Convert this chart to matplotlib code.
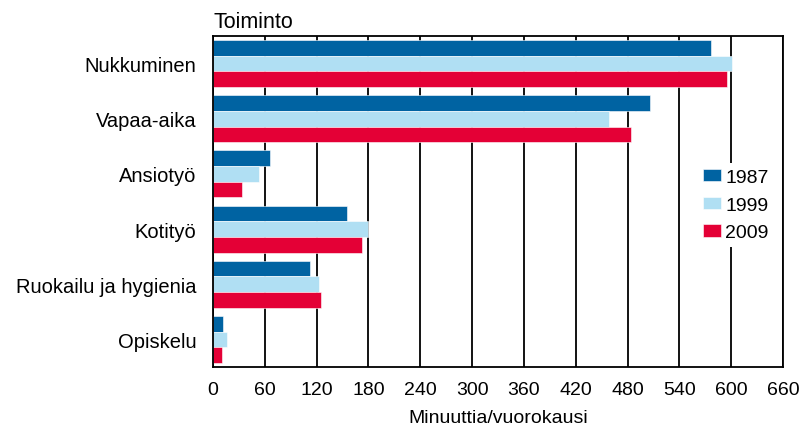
import numpy as np
import matplotlib
matplotlib.use("Agg")
import matplotlib.pyplot as plt

# Ajankäyttö, minuuttia/vuorokausi
categories = ['Nukkuminen', 'Vapaa-aika', 'Ansiotyö', 'Kotityö', 'Ruokailu ja hygienia', 'Opiskelu']
years = ['1987', '1999', '2009']
v1987 = [577, 506, 66, 155, 112, 12]
v1999 = [601, 458, 53, 179, 123, 16]
v2009 = [595, 484, 34, 172, 125, 10]
xticks = [0, 60, 120, 180, 240, 300, 360, 420, 480, 540, 600, 660]

colors = ['#0063a2', '#b0dff3', '#e40036']

plt.rcParams['font.family'] = ['Liberation Sans', 'DejaVu Sans']

W, H = 800, 427
fig = plt.figure(figsize=(W / 100, H / 100), dpi=100)
ax = fig.add_axes([213 / W, 1 - 368 / H, 570 / W, 331 / H])

y = np.arange(len(categories))
bh = 0.283
series = [v1987, v1999, v2009]
for k, vals in enumerate(series):
    ax.barh(y + (k - 1) * bh, vals, height=bh, color=colors[k],
            edgecolor='white', linewidth=0.4, label=years[k], zorder=2)

ax.set_xlim(0, 660)
ax.set_ylim(len(categories) - 0.5, -0.5)
ax.set_xticks(xticks)
ax.set_xticklabels([str(t) for t in xticks], fontsize=14)
ax.set_yticks(y)
ax.set_yticklabels(categories, fontsize=14.5)
ax.tick_params(axis='x', length=0, pad=10)
ax.tick_params(axis='y', length=0, pad=12)
ax.grid(axis='x', color='black', linewidth=1.3, zorder=1)
ax.set_axisbelow(True)
for s in ax.spines.values():
    s.set_linewidth(1.3)
    s.set_color('black')

leg = ax.legend(loc='upper left', bbox_to_anchor=(697 / W, 1 - 164 / H),
                bbox_transform=fig.transFigure, fontsize=14,
                frameon=True, facecolor='white', edgecolor='none', framealpha=1,
                fancybox=False, handlelength=0.95, handleheight=0.6,
                handletextpad=0.2, labelspacing=0.55, borderpad=0.3,
                borderaxespad=0)
leg.set_zorder(5)

fig.text(214 / W, 1 - 28 / H, 'Toiminto', fontsize=15.5, ha='left', va='baseline')
fig.text(498 / W, 4 / H, 'Minuuttia/vuorokausi', fontsize=14, ha='center', va='baseline')

fig.savefig('out.png', dpi=100)
